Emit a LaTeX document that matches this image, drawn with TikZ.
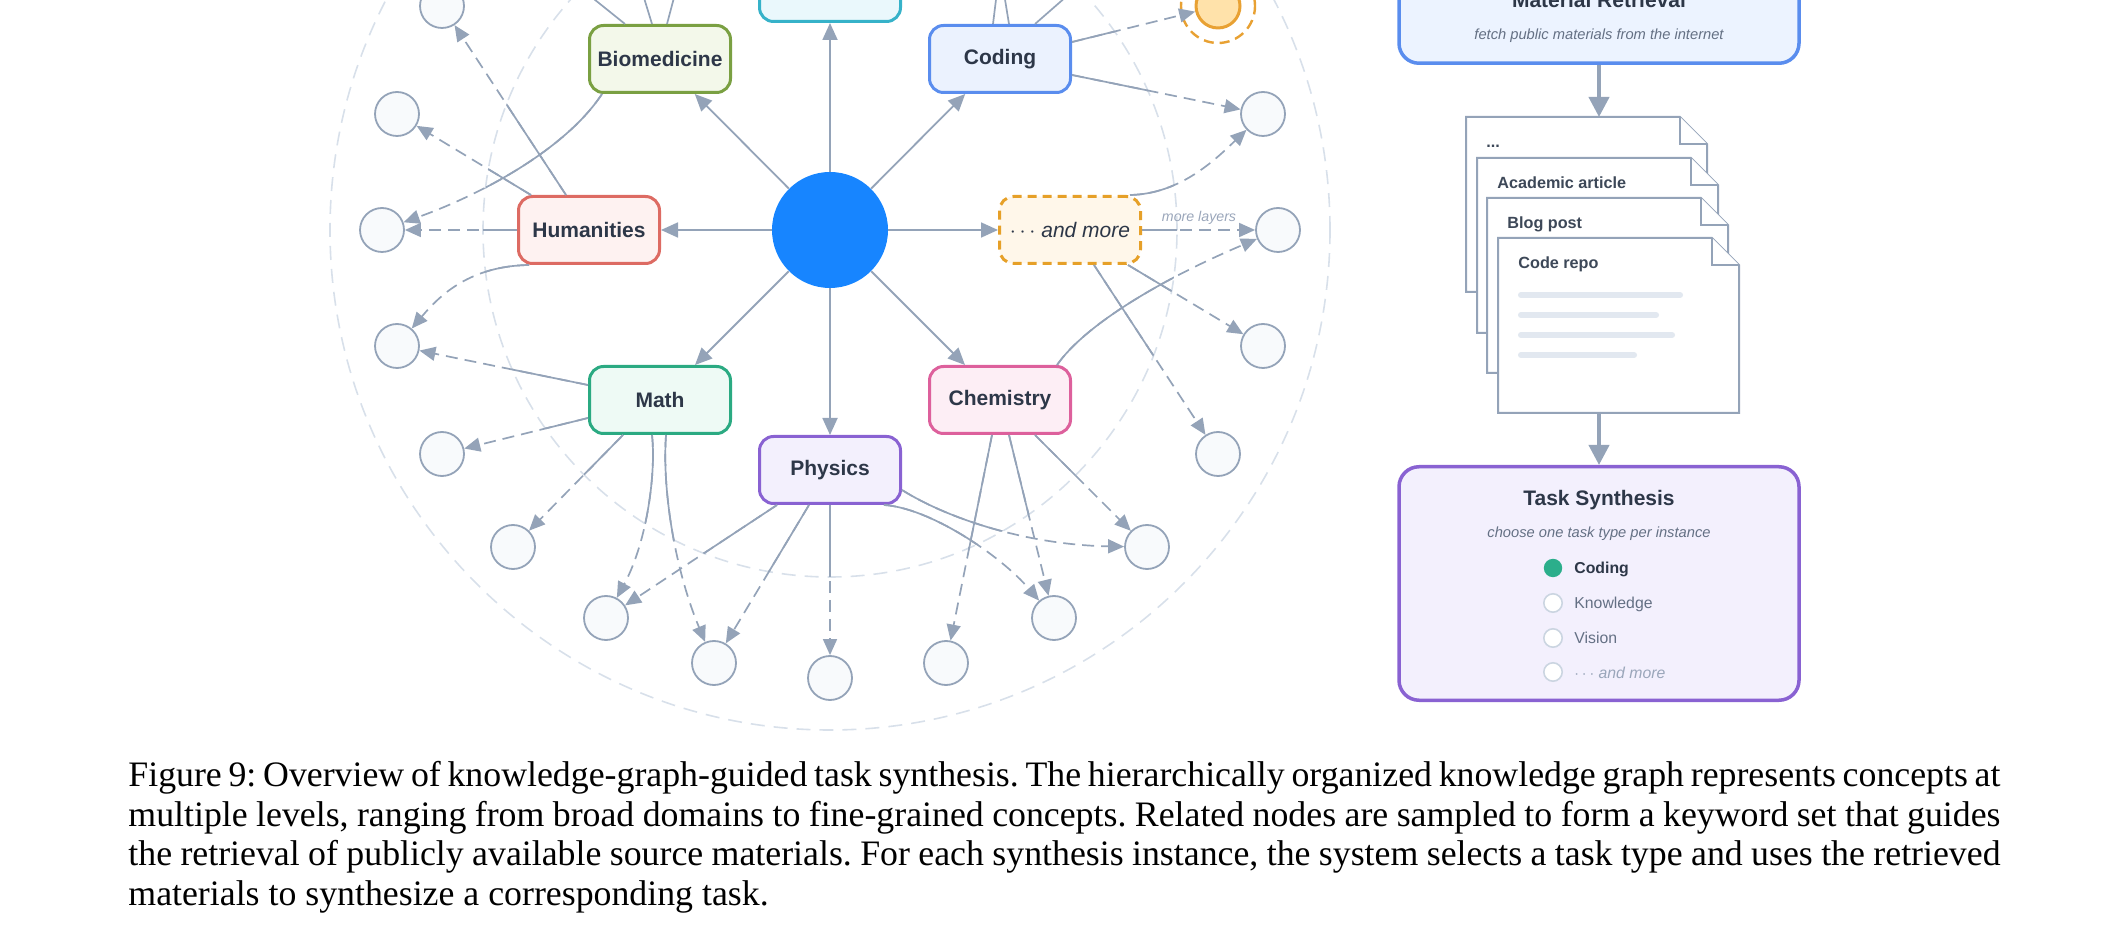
\documentclass[tikz,border=0pt]{standalone}
\usepackage{fontspec}
\setmainfont{Liberation Sans}
\newfontfamily\capfont{Liberation Serif}
\usepackage{tikz}
\usetikzlibrary{arrows.meta, calc}

\definecolor{textdark}{RGB}{45, 55, 72}
\definecolor{edgegray}{RGB}{148, 163, 184}
\definecolor{leaffill}{RGB}{248, 250, 252}
\definecolor{ringgray}{RGB}{216, 224, 234}
\definecolor{hubblue}{RGB}{23, 133, 255}
\definecolor{subgray}{RGB}{100, 112, 132}
\definecolor{mutedgray}{RGB}{154, 166, 186}
\definecolor{doctext}{RGB}{61, 72, 88}
\definecolor{barfill}{RGB}{226, 232, 240}
\definecolor{radioline}{RGB}{203, 213, 225}
\definecolor{radiogreen}{RGB}{43, 174, 139}
\definecolor{bioline}{RGB}{122, 160, 66}
\definecolor{biofill}{RGB}{243, 248, 234}
\definecolor{codeline}{RGB}{90, 141, 238}
\definecolor{codefill}{RGB}{235, 242, 254}
\definecolor{humline}{RGB}{221, 107, 99}
\definecolor{humfill}{RGB}{254, 242, 241}
\definecolor{moreline}{RGB}{230, 160, 40}
\definecolor{morefill}{RGB}{255, 247, 234}
\definecolor{mathline}{RGB}{43, 170, 130}
\definecolor{mathfill}{RGB}{238, 250, 245}
\definecolor{chemline}{RGB}{221, 96, 156}
\definecolor{chemfill}{RGB}{253, 238, 245}
\definecolor{physline}{RGB}{137, 98, 210}
\definecolor{physfill}{RGB}{243, 240, 253}
\definecolor{topline}{RGB}{54, 178, 201}
\definecolor{topfill}{RGB}{234, 248, 252}
\definecolor{hotline}{RGB}{232, 161, 51}
\definecolor{hotfill}{RGB}{255, 226, 170}
\definecolor{matfill}{RGB}{236, 243, 255}

\tikzset{
	fieldbox/.style={rectangle, rounded corners=7pt, line width=1.5pt, minimum width=70.5pt, minimum height=33.5pt, text=textdark, font=\fontsize{10.5}{12}\selectfont\bfseries},
	leaf/.style={circle, draw=edgegray, fill=leaffill, line width=0.9pt, minimum size=22pt, inner sep=0pt},
	hub/.style={circle, fill=hubblue, minimum size=58pt, inner sep=0pt},
	spoke/.style={draw=edgegray, line width=0.9pt, -{Triangle[length=8.5pt, width=7.5pt]}},
	twigline/.style={draw=edgegray, line width=0.85pt},
	guidering/.style={draw=ringgray, line width=0.8pt, dash pattern=on 7pt off 4.5pt},
	layertag/.style={text=mutedgray, font=\fontsize{7.1}{8}\selectfont\itshape, inner sep=0pt},
	stagebox/.style={rectangle, rounded corners=10pt, line width=1.75pt, minimum width=200pt},
	stagetitle/.style={text=textdark, font=\fontsize{10.5}{12}\selectfont\bfseries, inner sep=0pt},
	stagesub/.style={text=subgray, font=\fontsize{7.35}{9}\selectfont\itshape, inner sep=0pt},
	bigarrow/.style={draw=edgegray, line width=2pt, -{Triangle[length=10pt, width=10pt]}},
	docsheet/.style={draw=edgegray, line width=1pt, fill=white},
	doclabel/.style={text=doctext, font=\fontsize{8.1}{9}\selectfont\bfseries, inner sep=0pt},
	textbar/.style={draw=barfill, line width=3pt, line cap=round},
	radiodot/.style={circle, minimum size=9.2pt, inner sep=0pt, line width=0.8pt},
	choicetext/.style={font=\fontsize{7.9}{9}\selectfont, inner sep=0pt, anchor=base west},
	capnode/.style={text width=936pt, align=justify, inner sep=0pt, font=\capfont\fontsize{17.9}{19.8}\selectfont\frenchspacing}
}

% one sheet of the material stack: x left, y top, label, name
\newcommand{\docpage}[4]{%
	\draw[docsheet] (#1,#2) -- ++(214,0) -- ++(27,27) -- ++(0,148) -- ++(-241,0) -- cycle;
	\draw[docsheet] (#1+214,#2) -- ++(0,27) -- ++(27,0);
	\node[doclabel, anchor=base west] (#4) at (#1+20,#2+31) {#3};
}

% edges from the domains to the concept leaves
\newcommand{\leafedges}{%
	\draw[twig] ([xshift=-11.5pt]dhum.north) -- (l150);
	\draw[twig] ([xshift=7pt]dhum.north west) -- (l165);
	\draw[twig] (dhum.west) -- (l180);
	\draw[twig] ([xshift=6pt]dhum.south west) .. controls (470,266) and (440,295) .. (l195);
	\draw[twig] ([xshift=7pt]dbio.south west) .. controls (565,150) and (480,195) .. (l180);
	\draw[twig] ([yshift=8.5pt]dcode.east) -- (l30);
	\draw[twig] ([yshift=-8pt]dcode.east) -- (l15);
	\draw[twig] ([xshift=-6pt]dmore.north east) .. controls (1180,194) and (1215,160) .. (l15);
	\draw[twig] (dmore.east) -- (l0);
	\draw[twig] ([xshift=-7pt]dmore.south east) -- (l345);
	\draw[twig] ([xshift=12pt]dmore.south) -- (l330);
	\draw[twig] ([xshift=-7.5pt]dchem.north east) .. controls (1085,325) and (1160,280) .. (l0);
	\draw[twig] ([xshift=17.5pt]dchem.south) -- (l315);
	\draw[twig] ([xshift=4.5pt]dchem.south) -- (l300);
	\draw[twig] ([xshift=-4pt]dchem.south) -- (l285);
	\draw[twig] ([xshift=9.5pt]dphys.south west) -- (l240);
	\draw[twig] ([xshift=-10.5pt]dphys.south) -- (l255);
	\draw[twig] (dphys.south) -- (l270);
	\draw[twig] ([xshift=-9pt]dphys.south east) .. controls (930,508) and (1000,555) .. (l300);
	\draw[twig] ([yshift=-10pt]dphys.east) .. controls (950,520) and (1030,545) .. (l315);
	\draw[twig] ([yshift=7.5pt]dmath.west) -- (l195);
	\draw[twig] ([yshift=-9pt]dmath.west) -- (l210);
	\draw[twig] ([xshift=17.5pt]dmath.south west) -- (l225);
	\draw[twig] ([xshift=-4pt]dmath.south) .. controls (656,470) and (648,540) .. (l240);
	\draw[twig] ([xshift=3pt]dmath.south) .. controls (662,490) and (675,570) .. (l255);
}

\begin{document}
\begin{tikzpicture}[x=0.5pt, y=-0.5pt]
	\useasboundingbox (0,0) rectangle (2120,940);
	\clip (0,0) rectangle (2120,940);

	% guide rings
	\draw[guidering] (830,230) circle (173.5pt);
	\draw[guidering] (830,230) circle (250pt);

	% hub and domains
	\node[hub] (hub) at (830,230) {};
	\node[fieldbox, draw=topline, fill=topfill] (dtop) at (830,-12) {};
	\node[fieldbox, draw=bioline, fill=biofill] (dbio) at (660,59) {Biomedicine};
	\node[fieldbox, draw=codeline, fill=codefill] (dcode) at (1000,59) {Coding};
	\node[fieldbox, draw=humline, fill=humfill] (dhum) at (589,230) {Humanities};
	\node[fieldbox, draw=moreline, fill=morefill, dash pattern=on 4.5pt off 3pt, font=\fontsize{10.5}{12}\selectfont] (dmore) at (1070,230) {$\cdots$ \textit{and more}};
	\node[fieldbox, draw=mathline, fill=mathfill] (dmath) at (660,400) {Math};
	\node[fieldbox, draw=chemline, fill=chemfill] (dchem) at (1000,400) {Chemistry};
	\node[fieldbox, draw=physline, fill=physfill] (dphys) at (830,470) {Physics};

	% concept leaves
	\node[leaf] (l150) at (442,6) {};
	\node[leaf] (l165) at (397,114) {};
	\node[leaf] (l180) at (382,230) {};
	\node[leaf] (l195) at (397,346) {};
	\node[leaf] (l210) at (442,454) {};
	\node[leaf] (l225) at (513,547) {};
	\node[leaf] (l240) at (606,618) {};
	\node[leaf] (l255) at (714,663) {};
	\node[leaf] (l270) at (830,678) {};
	\node[leaf] (l285) at (946,663) {};
	\node[leaf] (l300) at (1054,618) {};
	\node[leaf] (l315) at (1147,547) {};
	\node[leaf] (l330) at (1218,454) {};
	\node[leaf] (l345) at (1263,346) {};
	\node[leaf] (l0) at (1278,230) {};
	\node[leaf] (l15) at (1263,114) {};
	\node[leaf, draw=hotline, fill=hotfill, line width=1.5pt] (l30) at (1218,6) {};
	\draw[hotline, line width=1.2pt, dash pattern=on 5pt off 3pt] (l30) circle (18.5pt);

	% hub to domains
	\draw[spoke] (hub) -- (dtop);
	\draw[spoke] (hub) -- (dbio);
	\draw[spoke] (hub) -- (dcode);
	\draw[spoke] (hub) -- (dhum);
	\draw[spoke] (hub) -- (dmore);
	\draw[spoke] (hub) -- (dmath);
	\draw[spoke] (hub) -- (dchem);
	\draw[spoke] (hub) -- (dphys);

	% edges running off the top
	\coordinate (bioupa) at (564,-25);
	\coordinate (bioupb) at (637,-25);
	\coordinate (bioupc) at (680,-25);
	\coordinate (codeupa) at (999,-25);
	\coordinate (codeupb) at (1001,-25);
	\coordinate (codeupc) at (1091,-25);
	\draw[twigline] ([xshift=-17.5pt]dbio.north) -- (bioupa);
	\draw[twigline] ([xshift=-4pt]dbio.north) -- (bioupb);
	\draw[twigline] ([xshift=3.5pt]dbio.north) -- (bioupc);
	\draw[twigline] ([xshift=-3.5pt]dcode.north) -- (codeupa);
	\draw[twigline] ([xshift=4.5pt]dcode.north) -- (codeupb);
	\draw[twigline] ([xshift=17.5pt]dcode.north) -- (codeupc);

	% dashed everywhere, then solid again inside the inner ring
	\begin{scope}[twig/.style={twigline, dash pattern=on 6pt off 3.5pt, -{Triangle[length=8pt, width=7pt]}}]
		\leafedges
	\end{scope}
	\begin{scope}[twig/.style={twigline, -{Triangle[length=8pt, width=7pt]}}]
		\clip (830,230) circle (173.5pt);
		\leafedges
	\end{scope}
	\node[layertag, anchor=base] (moretag) at (1199,222) {more layers};

	% material retrieval
	\node[stagebox, draw=codeline, fill=matfill, minimum height=50.75pt] (matbox) at (1599,12.5) {};
	\node[stagetitle, anchor=base] (mattitle) at (1599,8) {Material Retrieval};
	\node[stagesub, anchor=base] (matsub) at (1599,40) {fetch public materials from the internet};
	\coordinate (stacktop) at (1599,117);
	\coordinate (stackbot) at (1599,412);
	\draw[bigarrow] (matbox) -- (stacktop);

	\docpage{1466}{117}{...}{pgone}
	\docpage{1477}{158}{Academic article}{pgtwo}
	\docpage{1487}{198}{Blog post}{pgthree}
	\docpage{1498}{238}{Code repo}{pgfour}
	\draw[textbar] (1521,295) -- (1680,295);
	\draw[textbar] (1521,315) -- (1656,315);
	\draw[textbar] (1521,335) -- (1672,335);
	\draw[textbar] (1521,355) -- (1634,355);

	% task synthesis
	\node[stagebox, draw=physline, fill=physfill, minimum height=116.75pt] (taskbox) at (1599,583.5) {};
	\draw[bigarrow] (stackbot) -- (taskbox);
	\node[stagetitle, anchor=base] (tasktitle) at (1599,506) {Task Synthesis};
	\node[stagesub, anchor=base] (tasksub) at (1599,538) {choose one task type per instance};
	\node[radiodot, fill=radiogreen] (rcode) at (1553,568) {};
	\node[radiodot, draw=radioline, fill=white] (rknow) at (1553,603) {};
	\node[radiodot, draw=radioline, fill=white] (rvis) at (1553,638) {};
	\node[radiodot, draw=radioline, fill=white] (rmore) at (1553,672) {};
	\node[choicetext, text=textdark, font=\fontsize{7.9}{9}\selectfont\bfseries] (tcode) at (1574,574) {Coding};
	\node[choicetext, text=subgray] (tknow) at (1574,609) {Knowledge};
	\node[choicetext, text=subgray] (tvis) at (1574,643) {Vision};
	\node[choicetext, text=mutedgray, font=\fontsize{7.9}{9}\selectfont\itshape] (tmore) at (1574,678) {$\cdots$ and more};

	% caption
	\node[capnode, anchor=north west] (caption) at (128,761) {Figure 9: Overview of knowledge-graph-guided task synthesis. The hierarchically organized knowledge graph represents concepts at\linebreak multiple levels, ranging from broad domains to fine-grained concepts. Related nodes are sampled to form a keyword set that guides\linebreak the retrieval of publicly available source materials. For each synthesis instance, the system selects a task type and uses the retrieved\linebreak materials to synthesize a corresponding task.};
\end{tikzpicture}
\end{document}
